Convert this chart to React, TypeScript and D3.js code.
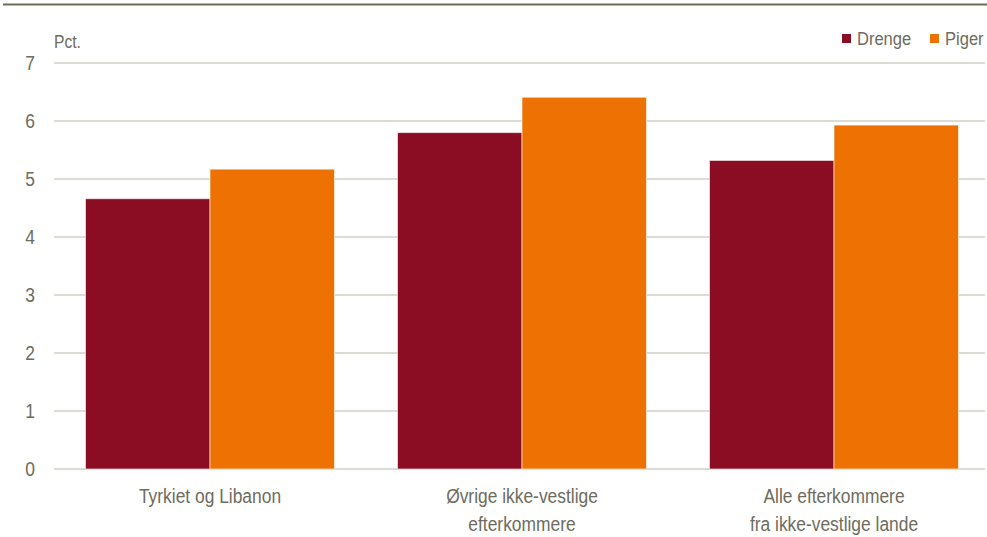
import React from "react";
import * as d3 from "d3";

const categories: string[][] = [
  ["Tyrkiet og Libanon"],
  ["Øvrige ikke-vestlige", "efterkommere"],
  ["Alle efterkommere", "fra ikke-vestlige lande"],
];
const seriesNames = ["Drenge", "Piger"];
const drenge = [4.66, 5.8, 5.32];
const piger = [5.17, 6.41, 5.93];
const yTicks = [0, 1, 2, 3, 4, 5, 6, 7];
const colors = ["#8b0d24", "#ee7203"];

const W = 987;
const H = 537;
const FONT = "'Liberation Sans', Arial, sans-serif";
const TEXT = "#6d6c5e";
const SX = 0.87;

function NText(props: {
  x: number;
  y: number;
  size: number;
  anchor?: "start" | "middle" | "end";
  children: React.ReactNode;
}) {
  const { x, y, size, anchor = "start", children } = props;
  return (
    <g transform={`translate(${x},${y}) scale(${SX},1)`}>
      <text x={0} y={0} textAnchor={anchor} fontSize={size} fill={TEXT}>
        {children}
      </text>
    </g>
  );
}

export default function App() {
  const y = d3.scaleLinear().domain([0, 7]).range([469, 63]);
  const values = [drenge, piger];
  const x0 = d3
    .scaleBand<number>()
    .domain(d3.range(categories.length))
    .range([54, 990])
    .padding(0);
  const barsW = 249;
  const xb = d3.scaleBand<number>().domain([0, 1]).range([-barsW / 2, barsW / 2]);
  const bw = xb.bandwidth();
  const centers = categories.map((_, i) => (x0(i) as number) + x0.bandwidth() / 2);

  return (
    <div style={{ position: "absolute", left: 0, top: 0 }}>
      <svg width={W} height={H} style={{ display: "block", fontFamily: FONT }}>
        <rect x={0} y={0} width={W} height={H} fill="#fff" />
        <line x1={3} x2={W} y1={4.5} y2={4.5} stroke="#6e6d5d" strokeWidth={2} />
        {yTicks.map((t) => (
          <g key={t}>
            <line x1={54} x2={985} y1={y(t)} y2={y(t)} stroke="#d0d0c6" strokeWidth={1.5} />
            <NText x={35} y={y(t) + 7} size={20} anchor="end">
              {t}
            </NText>
          </g>
        ))}
        <NText x={54} y={47.5} size={18}>Pct.</NText>
        {values.map((vals, s) =>
          vals.map((v, i) => (
            <rect
              key={`${s}-${i}`}
              x={centers[i] + (xb(s) as number)}
              y={y(v)}
              width={bw}
              height={y(0) - y(v)}
              fill={colors[s]}
              stroke="#ffffff"
              strokeOpacity={0.6}
              strokeWidth={1}
            />
          ))
        )}
        {categories.map((lines, i) =>
          lines.map((l, j) => (
            <NText key={`${i}-${j}`} x={centers[i]} y={502.5 + j * 28} size={20} anchor="middle">
              {l}
            </NText>
          ))
        )}
        {seriesNames.map((n, s) => {
          const lx = [842, 930][s];
          return (
            <g key={n}>
              <rect x={lx} y={34} width={9} height={9} fill={colors[s]} />
              <NText x={lx + 15} y={45} size={19}>{n}</NText>
            </g>
          );
        })}
      </svg>
    </div>
  );
}
